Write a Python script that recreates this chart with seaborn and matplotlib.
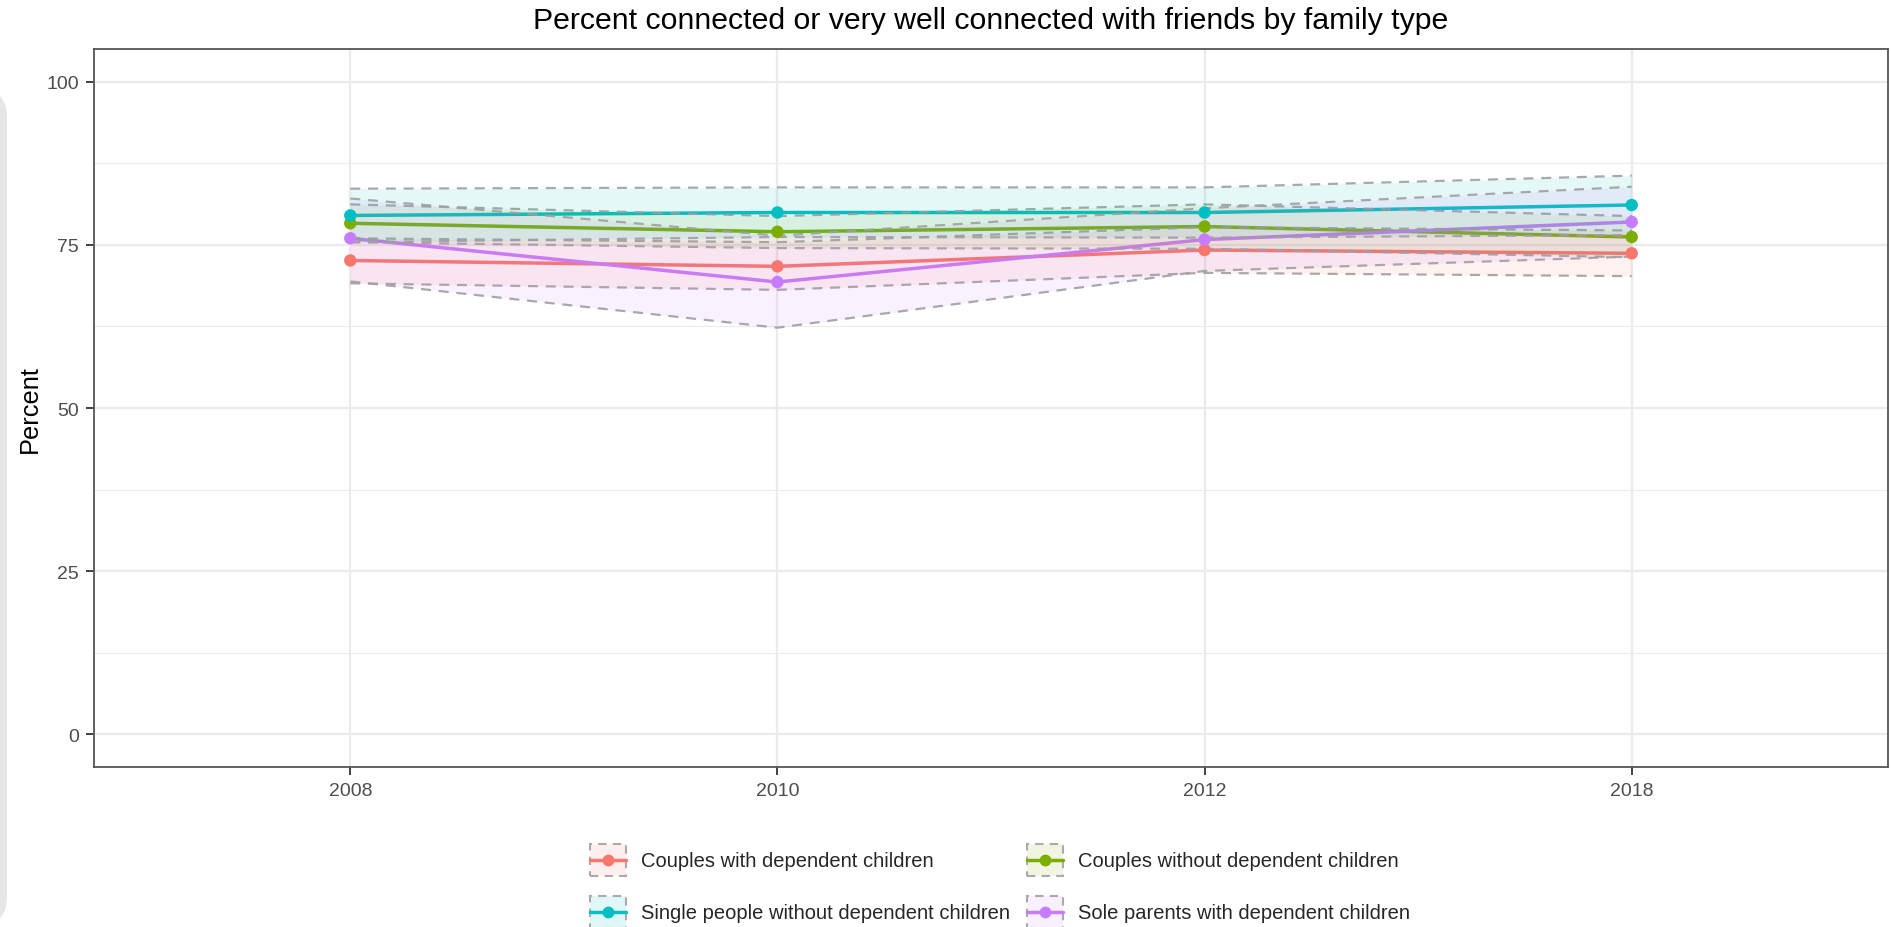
import numpy as np
import pandas as pd
import matplotlib
matplotlib.use("Agg")
import matplotlib.pyplot as plt
from matplotlib.patches import Rectangle, FancyBboxPatch
from matplotlib.lines import Line2D
from matplotlib.legend_handler import HandlerBase
import seaborn as sns

# ---- data -------------------------------------------------------------
years = ["2008", "2010", "2012", "2018"]
families = [
    "Couples with dependent children",
    "Couples without dependent children",
    "Single people without dependent children",
    "Sole parents with dependent children",
]
couples_with = [72.6, 71.7, 74.2, 73.7]
couples_with_lo = [69.1, 68.1, 70.7, 70.2]
couples_with_hi = [76.0, 75.4, 77.7, 77.2]

couples_without = [78.3, 77.0, 77.8, 76.2]
couples_without_lo = [75.4, 74.5, 74.4, 73.1]
couples_without_hi = [81.2, 79.4, 81.2, 79.4]

single = [79.5, 79.95, 79.95, 81.1]
single_lo = [75.4, 76.2, 76.1, 76.5]
single_hi = [83.6, 83.8, 83.8, 85.6]

sole = [76.0, 69.3, 75.8, 78.5]
sole_lo = [69.4, 62.3, 71.0, 73.2]
sole_hi = [82.1, 76.4, 80.6, 83.9]

palette = ["#F8766D", "#7CAE00", "#00BFC4", "#C77CFF"]

series = {
    families[0]: (couples_with, couples_with_lo, couples_with_hi),
    families[1]: (couples_without, couples_without_lo, couples_without_hi),
    families[2]: (single, single_lo, single_hi),
    families[3]: (sole, sole_lo, sole_hi),
}

rows = []
for fam, (val, lo, hi) in series.items():
    for i, yr in enumerate(years):
        rows.append(dict(family=fam, year=yr, pos=i, value=val[i], lower=lo[i], upper=hi[i]))
df = pd.DataFrame(rows)


class RibbonKey(HandlerBase):
    """Legend key: dashed, lightly filled box with a line and a centred point."""

    def create_artists(self, legend, orig_handle, xdescent, ydescent,
                       width, height, fontsize, trans):
        col = orig_handle.get_color()
        x0, y0 = -xdescent, -ydescent
        cy = y0 + height / 2
        box = Rectangle((x0, y0), width, height,
                        facecolor=matplotlib.colors.to_rgba(col, 0.12),
                        edgecolor="#AAAAAA", linestyle=(0, (4, 3)), linewidth=1.5,
                        transform=trans)
        line = Line2D([x0, x0 + width], [cy, cy], color=col, lw=2.5, transform=trans)
        dot = Line2D([x0 + width / 2], [cy], color=col, marker="o", markersize=8.5,
                     markeredgewidth=0, linestyle="none", transform=trans)
        return [box, line, dot]


# ---- style ------------------------------------------------------------
sns.set_theme(style="white")
plt.rcParams["font.family"] = ["Liberation Sans", "DejaVu Sans"]

W, H = 1891, 928
fig = plt.figure(figsize=(W / 100, H / 100), dpi=100)
fig.patch.set_facecolor("white")

# light rounded panel at the left page edge (inch coordinates)
fig.patches.append(FancyBboxPatch((-0.5, (H - 926) / 100), 0.57, (926 - 90) / 100,
                                  boxstyle="round,pad=0,rounding_size=0.28",
                                  transform=fig.dpi_scale_trans, facecolor="#E6E6E6",
                                  edgecolor="none", zorder=0))

ax = fig.add_axes([94 / W, 1 - 768 / H, (1888 - 94) / W, (768 - 50) / H])
ax.set_facecolor("white")

# grid
for v in [12.5, 37.5, 62.5, 87.5]:
    ax.axhline(v, color="#EBEBEB", lw=0.8, zorder=0)
for v in [0, 25, 50, 75, 100]:
    ax.axhline(v, color="#EBEBEB", lw=1.6, zorder=0)
for p in range(len(years)):
    ax.axvline(p, color="#EBEBEB", lw=1.6, zorder=0)

# lines
sns.lineplot(data=df, x="pos", y="value", hue="family", hue_order=families,
             palette=palette, linewidth=2.5, legend=False, ax=ax, zorder=2)

# confidence ribbons with dashed outlines
for fam, col in zip(families, palette):
    d = df[df.family == fam]
    ax.fill_between(d["pos"], d["lower"], d["upper"], color=col, alpha=0.1,
                    linewidth=0, zorder=3)
    for b in ["lower", "upper"]:
        ax.plot(d["pos"], d[b], color="#A0A0A0", alpha=0.9, lw=1.6,
                linestyle=(0, (4.5, 3.5)), zorder=3)

# points
sns.scatterplot(data=df, x="pos", y="value", hue="family", hue_order=families,
                palette=palette, s=80, linewidth=0, legend=False, ax=ax, zorder=4)

ax.set_xlim(-0.6, len(years) - 1 + 0.6)
ax.set_ylim(-5, 105)
ax.set_xticks(range(len(years)))
ax.set_xticklabels(years)
ax.set_yticks([0, 25, 50, 75, 100])
ax.set_xlabel("")
ax.set_ylabel("Percent", fontsize=18.3, color="black", labelpad=3)
ax.tick_params(axis="both", labelsize=14, colors="#333333", labelcolor="#4D4D4D",
               length=6, width=1.3, pad=5, direction="out")
ax.tick_params(axis="both", which="both", bottom=True, left=True)
for s in ax.spines.values():
    s.set_color("#555555")
    s.set_linewidth(1.3)

fig.text(991 / W, 1 - 21 / H,
         "Percent connected or very well connected with friends by family type",
         ha="center", va="center", fontsize=21.8, color="black")

# legend filled row by row
proxies = [Line2D([0], [0], color=c) for c in palette]
order = [0, 2, 1, 3]
fig.legend([proxies[i] for i in order], [families[i] for i in order],
           handler_map={Line2D: RibbonKey()},
           loc="upper center", bbox_to_anchor=(1000 / W, 1 - 835 / H), ncol=2,
           frameon=False, fontsize=14.5, handlelength=1.8, handleheight=2.05,
           handletextpad=0.75, columnspacing=0.8, labelspacing=1.0, borderpad=0)

fig.savefig("out.png", dpi=100, facecolor="white")
